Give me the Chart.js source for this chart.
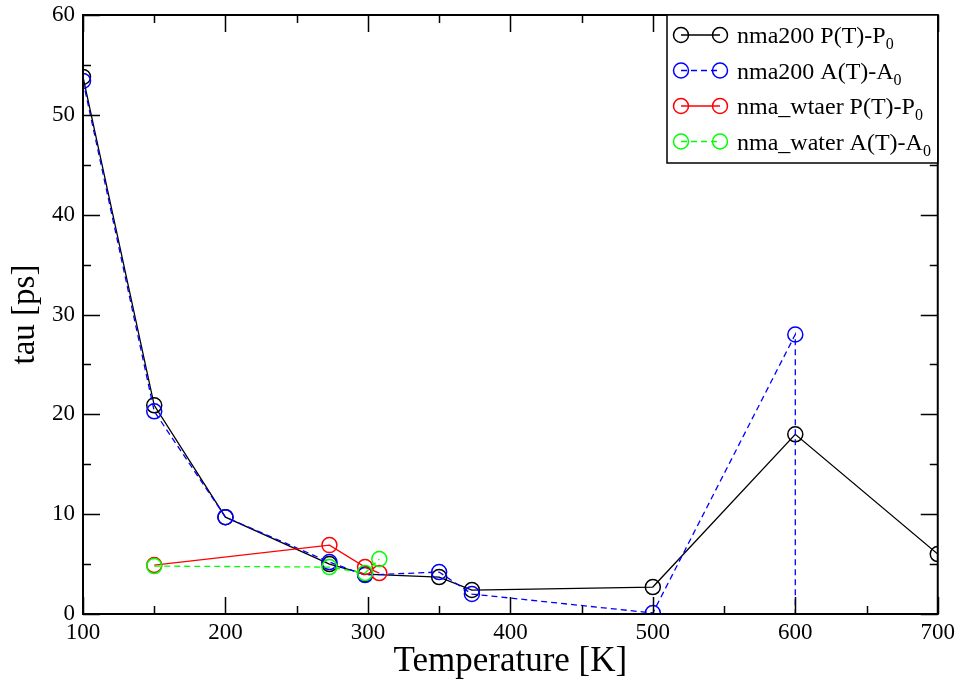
<!DOCTYPE html>
<html>
<head>
<meta charset="utf-8">
<script src="https://cdn.jsdelivr.net/npm/chart.js@4/dist/chart.umd.min.js"></script>
<style>
  html, body { margin: 0; padding: 0; background: #fff; }
  #wrap { width: 960px; height: 684px; position: relative; }
</style>
</head>
<body>
<div id="wrap"><canvas id="chart"></canvas></div>
<script>
// data
const tempsNma200 = [100, 150, 200, 273, 298, 350, 373, 500, 600, 700];
const pNma200 = [53.8, 20.9, 9.7, 5.0, 4.0, 3.7, 2.4, 2.7, 18.0, 6.0];
const tempsNma200A = [100, 150, 200, 273, 298, 350, 373, 500, 600, 600];
const aNma200 = [53.4, 20.3, 9.7, 5.2, 3.9, 4.2, 2.0, 0.1, 28.0, 0];
const tempsWater = [150, 273, 298, 308];
const pWater = [4.9, 6.9, 4.7, 4.1];
const aWater = [4.8, 4.7, 4.1, 5.5];

const xTickLabels = ['100', '200', '300', '400', '500', '600', '700'];
const yTickLabels = ['0', '10', '20', '30', '40', '50', '60'];

// legend text: main part and subscript
const legendNames = [
  ['nma200 P(T)-P', '0'],
  ['nma200 A(T)-A', '0'],
  ['nma_wtaer P(T)-P', '0'],
  ['nma_water A(T)-A', '0']
];

const FONT = "'Liberation Serif', 'Times New Roman', serif";
Chart.defaults.font.family = FONT;
Chart.defaults.color = '#000';

function pts(xs, ys) {
  return xs.map((x, i) => ({ x: x, y: ys[i] }));
}

function series(label, xs, ys, color, dashed, order) {
  return {
    label: label,
    data: pts(xs, ys),
    showLine: true,
    borderColor: color,
    backgroundColor: 'rgba(0,0,0,0)',
    borderWidth: 1.3,
    borderDash: dashed ? [6, 4] : [],
    pointStyle: 'circle',
    pointRadius: 7.5,
    pointBorderWidth: 1.5,
    pointBorderColor: color,
    pointBackgroundColor: 'rgba(0,0,0,0)',
    tension: 0,
    order: order
  };
}

const dsBlue = series(legendNames[1].join(''), tempsNma200A, aNma200, '#0000ff', true, 3);
// last blue point only carries the drop line, no marker
dsBlue.pointRadius = aNma200.map((v, i) => i === aNma200.length - 1 ? 0 : 7.5);

const datasets = [
  series(legendNames[0].join(''), tempsNma200, pNma200, '#000000', false, 4),
  dsBlue,
  series(legendNames[2].join(''), tempsWater, pWater, '#ff0000', false, 2),
  series(legendNames[3].join(''), tempsWater, aWater, '#00ff00', true, 1)
];

// frame plus inward major/minor ticks on all four sides
const frameTicks = {
  id: 'frameTicks',
  afterDatasetsDraw(chart) {
    const { ctx, chartArea: a, scales: { x, y } } = chart;
    ctx.save();
    ctx.strokeStyle = '#000';
    ctx.setLineDash([]);
    ctx.lineWidth = 1.5;
    const major = 17, minor = 8;
    const xs = [];
    for (let v = x.min; v <= x.max; v += 50) xs.push([v, v % 100 === 0 ? major : minor]);
    const ys = [];
    for (let v = y.min; v <= y.max; v += 5) ys.push([v, v % 10 === 0 ? major : minor]);
    ctx.beginPath();
    xs.forEach(([v, len]) => {
      const px = Math.round(x.getPixelForValue(v)) + 0.5;
      ctx.moveTo(px, a.bottom); ctx.lineTo(px, a.bottom - len);
      ctx.moveTo(px, a.top); ctx.lineTo(px, a.top + len);
    });
    ys.forEach(([v, len]) => {
      const py = Math.round(y.getPixelForValue(v)) + 0.5;
      ctx.moveTo(a.left, py); ctx.lineTo(a.left + len, py);
      ctx.moveTo(a.right, py); ctx.lineTo(a.right - len, py);
    });
    ctx.stroke();
    ctx.lineWidth = 2;
    ctx.strokeRect(a.left, a.top, a.right - a.left, a.bottom - a.top);
    ctx.restore();
  }
};

// grace-style legend box in the top right corner
const graceLegend = {
  id: 'graceLegend',
  afterDraw(chart) {
    const ctx = chart.ctx;
    const a = chart.chartArea;
    const bx = 667, by = a.top, bw = a.right - 667, bh = 148;
    ctx.save();
    ctx.fillStyle = '#fff';
    ctx.fillRect(bx, by, bw, bh);
    ctx.strokeStyle = '#000';
    ctx.lineWidth = 1.5;
    ctx.strokeRect(bx, by, bw, bh);
    chart.data.datasets.forEach((ds, i) => {
      const cy = by + 20 + i * 35.5;
      ctx.strokeStyle = ds.borderColor;
      ctx.lineWidth = 1.3;
      ctx.setLineDash(ds.borderDash);
      ctx.beginPath();
      ctx.moveTo(681, cy); ctx.lineTo(720, cy);
      ctx.stroke();
      ctx.setLineDash([]);
      ctx.lineWidth = 1.5;
      [681, 720].forEach(cx => {
        ctx.beginPath();
        ctx.arc(cx, cy, 7.5, 0, Math.PI * 2);
        ctx.stroke();
      });
      const [main, sub] = legendNames[i];
      ctx.fillStyle = '#000';
      ctx.textBaseline = 'alphabetic';
      ctx.font = '24px ' + FONT;
      ctx.fillText(main, 737, cy + 8);
      const w = ctx.measureText(main).width;
      ctx.font = '16px ' + FONT;
      ctx.fillText(sub, 737 + w, cy + 14);
    });
    ctx.restore();
  }
};

new Chart(document.getElementById('chart'), {
  type: 'scatter',
  data: { datasets: datasets },
  options: {
    responsive: true,
    maintainAspectRatio: false,
    animation: false,
    layout: { padding: { top: 15, right: 22, left: 0, bottom: 0 } },
    plugins: { legend: { display: false }, tooltip: { enabled: false } },
    scales: {
      x: {
        type: 'linear',
        min: 100,
        max: 700,
        grid: { display: false, drawTicks: false },
        border: { display: false },
        ticks: {
          stepSize: 100,
          padding: 5,
          font: { size: 23 },
          callback: (v) => xTickLabels.includes(String(v)) ? String(v) : ''
        },
        title: {
          display: true,
          text: 'Temperature [K]',
          font: { size: 35 },
          padding: { top: 0, bottom: 1 }
        },
        afterFit: (s) => { s.height = 70; }
      },
      y: {
        type: 'linear',
        min: 0,
        max: 60,
        grid: { display: false, drawTicks: false },
        border: { display: false },
        ticks: {
          stepSize: 10,
          padding: 8,
          font: { size: 23 },
          callback: (v) => yTickLabels.includes(String(v)) ? String(v) : ''
        },
        title: {
          display: true,
          text: 'tau [ps]',
          font: { size: 33 },
          padding: { top: 6, bottom: 0 }
        },
        afterFit: (s) => { s.width = 83; s.paddingTop = 0; s.paddingBottom = 0; }
      }
    }
  },
  plugins: [frameTicks, graceLegend]
});
</script>
</body>
</html>
